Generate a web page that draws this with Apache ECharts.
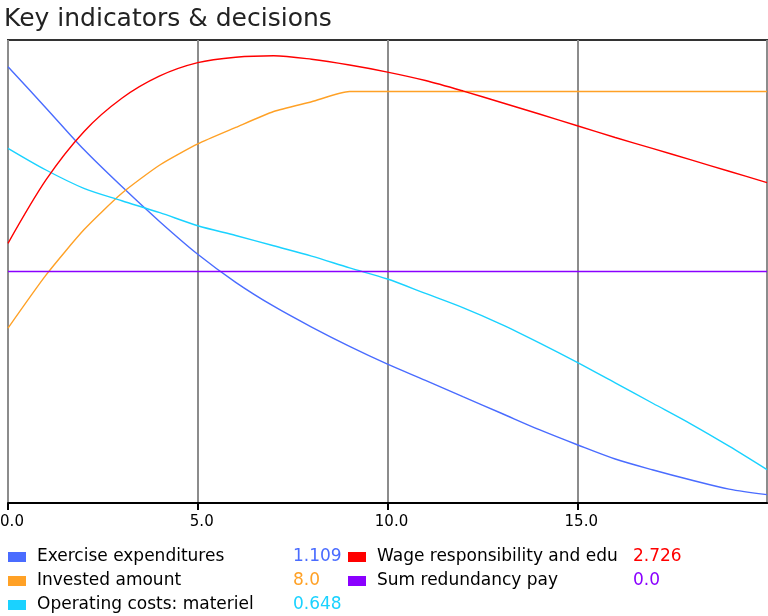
<!DOCTYPE html>
<html>
<head>
<meta charset="utf-8">
<script src="https://cdn.jsdelivr.net/npm/echarts@6/dist/echarts.min.js"></script>
<style>
html,body{margin:0;padding:0;background:#fff;}
#chart{width:768px;height:616px;}
</style>
</head>
<body>
<div id="chart"></div>
<script>
// Time axis (years)
var timeSteps = [0,1,2,3,4,5,6,7,8,9,10,11,12,13,14,15,16,17,18,19,20];

// Series values (each on its own scale)
var exerciseExpenditures = [6.654,6.12,5.58,5.10,4.645,4.223,3.86,3.55,3.28,3.03,2.80,2.59,2.375,2.163,1.950,1.755,1.570,1.428,1.298,1.180,1.109];
var investedAmount       = [3.40,4.43,5.31,6.02,6.57,6.98,7.30,7.61,7.80,8.0,8.0,8.0,8.0,8.0,8.0,8.0,8.0,8.0,8.0,8.0,8.0];
var operatingCosts       = [6.895,6.473,6.117,5.876,5.643,5.39,5.20,5.00,4.80,4.57,4.354,4.074,3.794,3.474,3.114,2.734,2.334,1.934,1.534,1.104,0.648];
var wageResponsibility   = [2.210,2.749,3.160,3.444,3.634,3.747,3.793,3.806,3.776,3.727,3.667,3.595,3.505,3.408,3.310,3.210,3.110,3.015,2.920,2.823,2.726];
var sumRedundancyPay     = [0,0,0,0,0,0,0,0,0,0,0,0,0,0,0,0,0,0,0,0,0];

var seriesNames = ['Exercise expenditures','Invested amount','Operating costs: materiel','Wage responsibility and edu','Sum redundancy pay'];
var seriesData  = [exerciseExpenditures, investedAmount, operatingCosts, wageResponsibility, sumRedundancyPay];
var seriesColors = ['#4a6cff','#ffa126','#1ad2ff','#ff0000','#8a00ff'];
// per-series vertical scale (autoscaled independently, axes hidden)
var axisMin = [1, 0, 0, 0, -1];
var axisMax = [7, 9, 9, 3.94, 1];

// x tick labels
var xTickLabels = ['0.0','5.0','10.0','15.0'];

function pairs(arr){ return timeSteps.map(function(t,i){ return [t, arr[i]]; }); }
function fmt(v){ return Number.isInteger(v) ? v.toFixed(1) : String(v); }

var FONT = 'DejaVu Sans';
var lastValues = {};
var rich = { n: { width: 256, padding:[0,0,0,6], fontSize: 17, fontFamily: FONT, color:'#000', lineHeight: 24 } };
seriesNames.forEach(function(n,i){
  lastValues[n] = { idx: i, txt: fmt(seriesData[i][seriesData[i].length-1]) };
  rich['v'+i] = { width: 55, fontSize: 17, fontFamily: FONT, color: seriesColors[i], lineHeight: 24 };
});

var chart = echarts.init(document.getElementById('chart'), null, {renderer:'canvas'});
var option = {
  animation: false,
  backgroundColor: '#fff',
  title: {
    text: 'Key indicators & decisions',
    left: 0, top: 7, padding: [0,0,0,4],
    textStyle: { fontFamily: FONT, fontSize: 25, fontWeight: 'normal', color: '#222' }
  },
  legend: {
    orient: 'vertical',
    left: 8, top: 545,
    height: 72,
    padding: 0,
    itemGap: 0,
    itemWidth: 18, itemHeight: 10,
    icon: 'rect',
    data: seriesNames,
    selectedMode: false,
    formatter: function(name){
      var lv = lastValues[name];
      return '{n|' + name + '}{v' + lv.idx + '|' + lv.txt + '}';
    },
    textStyle: { rich: rich, fontSize: 17, fontFamily: FONT, lineHeight: 24 }
  },
  grid: {
    left: 8, top: 40, width: 759, height: 463,
    containLabel: false, outerBoundsMode: 'none',
    show: true, borderColor: '#333', borderWidth: 2, backgroundColor: '#fff'
  },
  xAxis: {
    type: 'value', min: 0, max: 20, interval: 5,
    axisLine: { show: true, lineStyle: { color: '#000', width: 2 } },
    axisTick: { show: true, length: 7, lineStyle: { color: '#000', width: 2 } },
    splitLine: { show: true, lineStyle: { color: '#8c8c8c', width: 2 } },
    axisLabel: {
      margin: 12, color: '#000', fontSize: 15, fontFamily: FONT,
      padding: [0,0,0,8],
      showMaxLabel: false,
      formatter: function(v){ var i = Math.round(v/5); return xTickLabels[i] || ''; }
    }
  },
  yAxis: seriesNames.map(function(n,i){
    return { type: 'value', show: false, min: axisMin[i], max: axisMax[i], splitLine: { show: false } };
  }),
  series: seriesNames.map(function(n,i){
    return {
      name: n, type: 'line', yAxisIndex: i,
      data: pairs(seriesData[i]),
      showSymbol: false, symbol: 'none',
      smooth: i === 4 ? false : (i === 1 ? 0.2 : 0.3),
      color: seriesColors[i],
      lineStyle: { color: seriesColors[i], width: 1.4 },
      z: 3
    };
  })
};
chart.setOption(option);
</script>
</body>
</html>
